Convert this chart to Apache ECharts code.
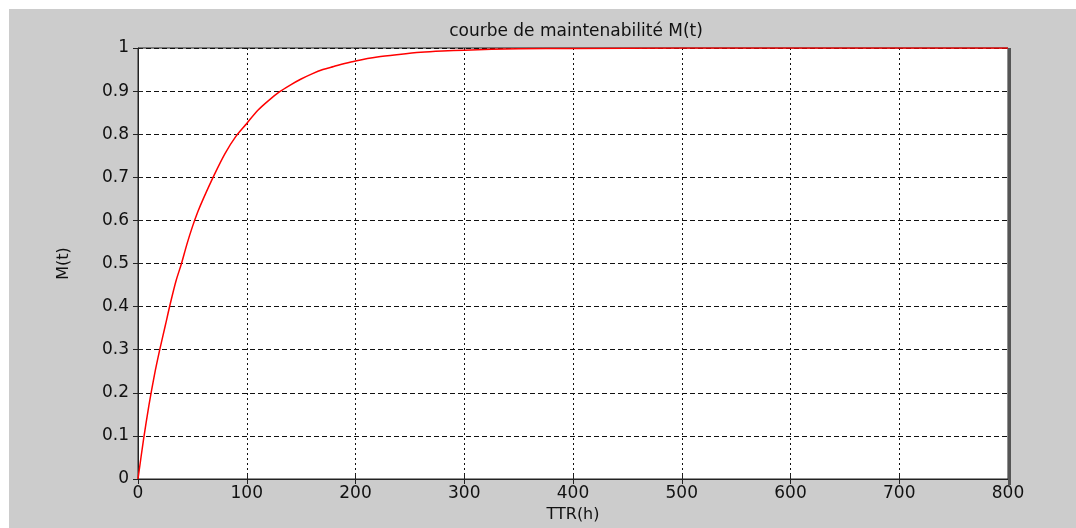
<!DOCTYPE html>
<html>
<head>
<meta charset="utf-8">
<script src="https://cdn.jsdelivr.net/npm/echarts@6/dist/echarts.min.js"></script>
<style>
html,body{margin:0;padding:0;background:#fff;}
#wrap{position:absolute;left:9px;top:9px;width:1067px;height:519px;background:#cccccc;}
#c{position:absolute;left:0;top:0;width:1076px;height:528px;}
</style>
</head>
<body>
<div id="wrap"></div>
<div id="c"></div>
<script>
// Data
const ttr = [0, 5, 10, 15, 20, 25, 30, 35, 40, 45, 50, 55, 60, 70, 80, 90, 100, 110, 120, 130, 140, 150, 160, 170, 180, 190, 200, 220, 240, 260, 280, 300, 325, 350, 400, 500, 600, 700, 800];
const mt  = [0, 0.09, 0.17, 0.24, 0.30, 0.355, 0.41, 0.46, 0.50, 0.545, 0.585, 0.62, 0.65, 0.705, 0.755, 0.795, 0.825, 0.855, 0.878, 0.898, 0.914, 0.928, 0.94, 0.95, 0.957, 0.964, 0.97, 0.979, 0.985, 0.99, 0.993, 0.995, 0.997, 0.998, 0.999, 1, 1, 1, 1];
const xTickLabels = ['0', '100', '200', '300', '400', '500', '600', '700', '800'];
const yTickLabels = ['0', '0.1', '0.2', '0.3', '0.4', '0.5', '0.6', '0.7', '0.8', '0.9', '1'];
const titleText = 'courbe de maintenabilité M(t)';
const xName = 'TTR(h)';
const yName = 'M(t)';

const chart = echarts.init(document.getElementById('c'), null, {renderer: 'canvas'});
const font = 'DejaVu Sans, Verdana, sans-serif';
const G = {left: 138, right: 68, top: 48, bottom: 44};
const tickStyle = {show: true, inside: true, length: 5, lineStyle: {color: '#222', width: 1}};
chart.setOption({
  backgroundColor: 'transparent',
  animation: false,
  title: {
    text: titleText, left: 571, top: 18, textAlign: 'center',
    textStyle: {fontFamily: font, fontSize: 17, fontWeight: 'normal', color: '#111'}
  },
  grid: Object.assign({show: true, backgroundColor: '#ffffff', borderColor: '#222', borderWidth: 1}, G),
  xAxis: [{
    type: 'value', min: 0, max: 800, interval: 100,
    name: xName, nameLocation: 'middle', nameGap: 28,
    nameTextStyle: {fontFamily: font, fontSize: 16, color: '#111'},
    axisLine: {show: true, lineStyle: {color: '#222', width: 1}},
    axisTick: tickStyle,
    axisLabel: {margin: 6, fontFamily: font, fontSize: 17, color: '#111',
      formatter: (v) => xTickLabels[Math.round(v / 100)]},
    splitLine: {show: true, lineStyle: {color: '#111', type: [2, 3], width: 1}}
  }, {
    type: 'value', min: 0, max: 800, interval: 100, position: 'top',
    axisLine: {show: false}, axisTick: tickStyle, axisLabel: {show: false}, splitLine: {show: false}
  }],
  yAxis: [{
    type: 'value', min: 0, max: 1, interval: 0.1,
    name: yName, nameLocation: 'middle', nameGap: 66,
    nameTextStyle: {fontFamily: font, fontSize: 16, color: '#111'},
    axisLine: {show: true, lineStyle: {color: '#222', width: 1}},
    axisTick: tickStyle,
    axisLabel: {margin: 9, fontFamily: font, fontSize: 17, color: '#111',
      formatter: (v) => yTickLabels[Math.round(v * 10)]},
    splitLine: {show: true, lineStyle: {color: '#111', type: [5, 3], width: 1}}
  }, {
    type: 'value', min: 0, max: 1, interval: 0.1, position: 'right',
    axisLine: {show: false}, axisTick: tickStyle, axisLabel: {show: false}, splitLine: {show: false}
  }],
  graphic: [{
    type: 'rect', shape: {x: 1008, y: 48, width: 3, height: 437},
    style: {fill: '#555'}, z: 10
  }],
  series: [{
    type: 'line', xAxisIndex: 0, yAxisIndex: 0,
    data: ttr.map((t, i) => [t, mt[i]]),
    smooth: 0.3, showSymbol: false, symbol: 'none',
    lineStyle: {color: '#ff0000', width: 1.5},
    z: 5
  }]
});
</script>
</body>
</html>
